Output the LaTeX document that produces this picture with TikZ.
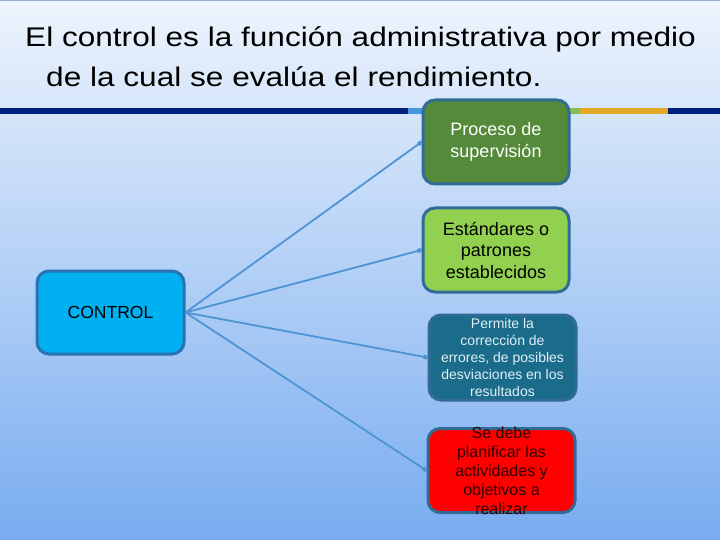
\documentclass[tikz,border=0pt]{standalone}
\usepackage{fontspec}
\setmainfont{Liberation Sans}
\newfontfamily\titlefont[FakeStretch=1.17]{Liberation Sans}
\usetikzlibrary{arrows.meta}
\definecolor{bgtop}{RGB}{238,244,252}
\definecolor{bgbot}{RGB}{120,172,240}
\definecolor{navy}{RGB}{0,32,128}
\definecolor{gold}{RGB}{226,170,40}
\definecolor{lblue}{RGB}{70,150,220}
\definecolor{lgreen}{RGB}{130,190,90}
\definecolor{conn}{RGB}{78,148,212}
\definecolor{ctrlfill}{RGB}{0,176,240}
\definecolor{ctrlborder}{RGB}{40,115,180}
\definecolor{boxborder}{RGB}{48,108,150}
\definecolor{fillA}{RGB}{84,138,58}
\definecolor{fillB}{RGB}{146,208,80}
\definecolor{fillC}{RGB}{26,108,138}
\definecolor{fillD}{RGB}{255,0,0}
\definecolor{textD}{RGB}{50,0,0}
\definecolor{textC}{RGB}{225,240,248}
\tikzset{
  rbox/.style={draw=boxborder, line width=3pt, rounded corners=12pt, inner sep=0pt, align=center},
  conline/.style={draw=conn, line width=1.8pt, -{Square[length=4pt,width=4pt]}},
}
\begin{document}
\begin{tikzpicture}[x=1pt,y=-1pt]
\useasboundingbox (0,0) rectangle (720,540);
\shade[top color=bgtop, bottom color=bgbot] (0,0) rectangle (720,540);
\draw[draw={rgb,255:red,150;green,175;blue,205}, line width=1pt] (0,0.5) -- (720,0.5);
% title
\node[anchor=base west, inner sep=0pt, font=\titlefont\fontsize{27}{30}\selectfont] (t1) at (25,47) {El control es la función administrativa por medio};
\node[anchor=base west, inner sep=0pt, font=\titlefont\fontsize{27}{30}\selectfont] (t2) at (46,87) {de la cual se evalúa el rendimiento.};
% header bar
\fill[navy] (0,108) rectangle (408,114);
\fill[lblue] (408,108) rectangle (422,114);
\fill[lgreen] (570,108) rectangle (580,114);
\fill[gold] (580,108) rectangle (668,114);
\fill[navy] (668,108) rectangle (720,114);
% boxes
\node[rbox, draw=ctrlborder, fill=ctrlfill, minimum width=147pt, minimum height=83pt, font=\fontsize{17.5}{20}\selectfont] (ctrl) at (110.5,312.5) {CONTROL};
\node[rbox, fill=fillA, text=white, minimum width=146pt, minimum height=84pt, font=\fontsize{18}{22}\selectfont] (b1) at (496,142) {Proceso de\\supervisión};
\node[rbox, fill=fillB, text=black, minimum width=146pt, minimum height=84pt, font=\fontsize{18}{21.5}\selectfont] (b2) at (496,250) {Estándares o\\patrones\\establecidos};
\node[rbox, fill=fillC, text=textC, minimum width=147pt, minimum height=85pt, font=\fontsize{14}{17}\selectfont] (b3) at (502.5,357.5) {Permite la\\corrección de\\errores, de posibles\\desviaciones en los\\resultados};
\node[rbox, fill=fillD, minimum width=147pt, minimum height=84pt] (b4) at (501.5,470.5) {};
\node[align=center, inner sep=0pt, text=textD, font=\fontsize{16}{19}\selectfont] (b4t) at (b4.center) {Se debe\\planificar las\\actividades y\\objetivos a\\realizar};
% connectors
\draw[conline] (ctrl.east) -- (b1.west);
\draw[conline] (ctrl.east) -- (b2.west);
\draw[conline] (ctrl.east) -- (b3.west);
\draw[conline] (ctrl.east) -- (b4.west);
\end{tikzpicture}
\end{document}
